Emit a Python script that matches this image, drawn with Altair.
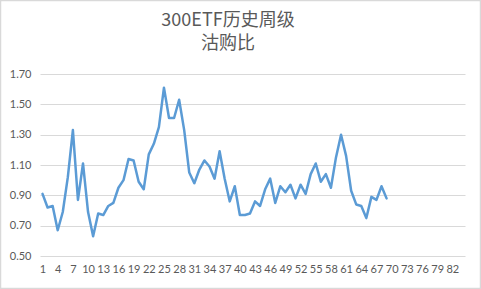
import altair as alt
import pandas as pd

title_lines = ["300ETF历史周级", "沽购比"]
weeks = list(range(1, 70))
ratio = [0.91, 0.82, 0.83, 0.67, 0.79, 1.02, 1.33, 0.87, 1.11, 0.79,
         0.63, 0.78, 0.77, 0.83, 0.85, 0.95, 1.00, 1.14, 1.13, 0.99,
         0.94, 1.17, 1.24, 1.35, 1.61, 1.41, 1.41, 1.53, 1.33, 1.05,
         0.98, 1.07, 1.13, 1.09, 1.01, 1.19, 1.01, 0.86, 0.96, 0.77,
         0.77, 0.78, 0.86, 0.83, 0.94, 1.01, 0.85, 0.96, 0.92, 0.97,
         0.88, 0.97, 0.91, 1.04, 1.11, 0.99, 1.04, 0.95, 1.15, 1.30,
         1.16, 0.93, 0.84, 0.83, 0.75, 0.89, 0.87, 0.96, 0.88]
x_categories = list(range(1, 85))
x_labels = list(range(1, 83, 3))
y_ticks = [0.5, 0.7, 0.9, 1.1, 1.3, 1.5, 1.7]

df = pd.DataFrame({"week": weeks, "ratio": ratio})

line = alt.Chart(df).mark_line(
    color="#5b9bd5", strokeWidth=2.5, strokeJoin="round", strokeCap="round"
).encode(
    x=alt.X("week:O", scale=alt.Scale(type="point", padding=0.5, domain=x_categories),
            axis=alt.Axis(values=x_labels, title=None, labelAngle=0, ticks=False,
                          domain=False, grid=False, labelPadding=7,
                          labelFont="Lato", labelFontSize=11, labelColor="#595959")),
    y=alt.Y("ratio:Q", scale=alt.Scale(domain=[0.5, 1.7], nice=False, zero=False),
            axis=alt.Axis(values=y_ticks, format=".2f", title=None, ticks=False,
                          domain=False, grid=True, gridColor="#d9d9d9", gridWidth=1,
                          labelPadding=9, labelFont="Lato", labelFontSize=11,
                          labelColor="#595959")),
)

title = alt.Chart(pd.DataFrame({"t": ["\n".join(title_lines)]})).mark_text(
    font="Noto Sans CJK SC", fontSize=18, color="#595959", align="center",
    baseline="alphabetic", lineBreak="\n", lineHeight=23
).encode(
    text="t:N", x=alt.value(188), y=alt.value(-48)
)

border = alt.Chart(pd.DataFrame({"a": [0]})).mark_rect(
    fill="transparent", stroke="#d9d9d9", strokeWidth=1.5
).encode(
    x=alt.value(-39.5), x2=alt.value(440.5), y=alt.value(-73.5), y2=alt.value(214.5)
)

chart = alt.layer(line, title, border).properties(
    width=425, height=182,
    autosize=alt.AutoSizeParams(type="none"),
    padding={"left": 40, "top": 74, "right": 16, "bottom": 33},
    background="white",
).configure_view(stroke=None)

chart.save("out.html", embed_options={"renderer": "svg", "actions": False})
